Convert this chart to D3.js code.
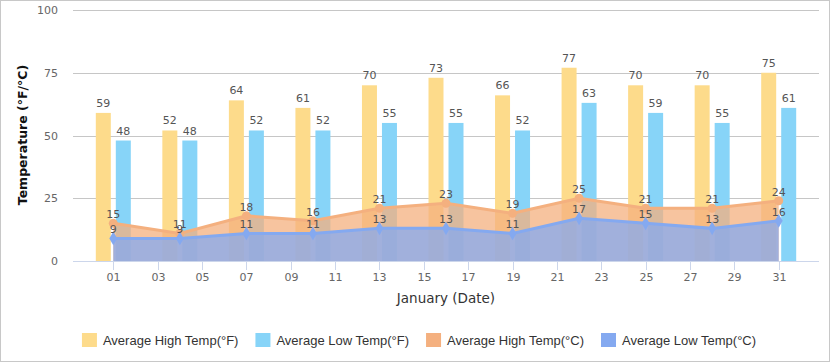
<!DOCTYPE html>
<html><head><meta charset="utf-8">
<script src="https://cdn.jsdelivr.net/npm/d3@7/dist/d3.min.js"></script>
<style>body{margin:0;background:#fff}svg{display:block}</style>
</head><body><svg id="c" width="830" height="362"></svg>
<script>
const days = ["01","04","07","10","13","16","19","22","25","28","31"];
const highF = [59,52,64,61,70,73,66,77,70,70,75];
const lowF  = [48,48,52,52,55,55,52,63,59,55,61];
const highC = [15,11,18,16,21,23,19,25,21,21,24];
const lowC  = [9,9,11,11,13,13,11,17,15,13,16];
const yTicks = [0,25,50,75,100];
const xTickDays = ["01","03","05","07","09","11","13","15","17","19","21","23","25","27","29","31"];
const seriesNames = ["Average High Temp(°F)","Average Low Temp(°F)","Average High Temp(°C)","Average Low Temp(°C)"];
const colors = ["#FDDB8B","#87D4F8","#F4B07F","#84A9F0"];

const W = 830, H = 362;
const svg = d3.select("#c");
const pL = 73, pR = 819, pT = 10, pB = 261;
const dayMs = 86400000;
const toDate = d => new Date(Date.UTC(2024,0,+d));
const pad = 1.817*dayMs;
const x = d3.scaleUtc().domain([+toDate("01")-pad, +toDate("31")+pad]).range([pL,pR]);
const y = d3.scaleLinear().domain([0,100]).range([pB,pT]);

svg.append("rect").attr("x",0.5).attr("y",0.5).attr("width",W-1).attr("height",H-1).attr("fill","#fff").attr("stroke","#c8c8c8");

// gridlines
svg.append("g").selectAll("line").data(yTicks.filter(t=>t>0)).join("line")
  .attr("x1",pL).attr("x2",pR).attr("y1",d=>Math.round(y(d))+0.5).attr("y2",d=>Math.round(y(d))+0.5)
  .attr("stroke","#c6c6c6").attr("stroke-width",1);

// y labels
svg.append("g").selectAll("text").data(yTicks).join("text")
  .attr("x",58).attr("y",d=>y(d)+4).attr("text-anchor","end")
  .attr("font-family","DejaVu Sans").attr("font-size",11).attr("fill","#666").text(d=>d);

// bars
const bw = 15, gap = 5;
const barG = svg.append("g");
[highF, lowF].forEach((arr,si)=>{
  barG.append("g").selectAll("rect").data(arr).join("rect")
    .attr("x",(d,i)=>x(toDate(days[i])) - (bw+gap/2) + si*(bw+gap))
    .attr("width",bw).attr("y",d=>y(d)).attr("height",d=>pB-y(d))
    .attr("fill",colors[si]);
});

// areas
const area = arr => d3.area().x((d,i)=>x(toDate(days[i]))).y0(pB).y1(d=>y(d))(arr);
const line = arr => d3.line().x((d,i)=>x(toDate(days[i]))).y(d=>y(d))(arr);
svg.append("path").attr("d",area(highC)).attr("fill",colors[2]).attr("fill-opacity",0.75);
svg.append("path").attr("d",area(lowC)).attr("fill",colors[3]).attr("fill-opacity",0.75);
svg.append("path").attr("d",line(highC)).attr("fill","none").attr("stroke",colors[2]).attr("stroke-width",3);
svg.append("path").attr("d",line(lowC)).attr("fill","none").attr("stroke",colors[3]).attr("stroke-width",3);
svg.append("g").selectAll("circle").data(highC).join("circle")
  .attr("cx",(d,i)=>x(toDate(days[i]))).attr("cy",d=>y(d)).attr("r",4.5).attr("fill",colors[2]);
svg.append("g").selectAll("path").data(lowC).join("path")
  .attr("transform",(d,i)=>`translate(${x(toDate(days[i]))},${y(d)})`)
  .attr("d",d3.symbol(d3.symbolDiamond,55)).attr("fill",colors[3]);

// x axis
svg.append("line").attr("x1",pL).attr("x2",pR).attr("y1",pB+0.5).attr("y2",pB+0.5).attr("stroke","#ccd6eb");
const xt = svg.append("g").selectAll("g").data(xTickDays).join("g")
  .attr("transform",d=>`translate(${Math.round(x(toDate(d)))+0.5},0)`);
xt.append("line").attr("y1",pB).attr("y2",pB+9).attr("stroke","#ccd6eb");
xt.append("text").attr("y",281).attr("text-anchor","middle")
  .attr("font-family","DejaVu Sans").attr("font-size",11).attr("fill","#666").text(d=>d);

// labels
const lab = (arr, off, shift) => svg.append("g").selectAll("text").data(arr).join("text")
  .attr("x",(d,i)=>x(toDate(days[i]))+shift).attr("y",d=>y(d)-off).attr("text-anchor","middle")
  .attr("font-family","DejaVu Sans").attr("font-size",11).attr("fill","#555").text(d=>d);
lab(highF,6,-(bw+gap)/2);
lab(lowF,6,(bw+gap)/2);
lab(highC,5,0);
lab(lowC,5,0);

// titles
svg.append("text").attr("x",(pL+pR)/2).attr("y",303).attr("text-anchor","middle")
  .attr("font-family","DejaVu Sans").attr("font-size",13.5).attr("fill","#333").text("January (Date)");
svg.append("text").attr("transform","translate(27,135) rotate(-90)").attr("text-anchor","middle")
  .attr("font-family","DejaVu Sans").attr("font-weight","bold").attr("font-size",12.5).attr("fill","#111").text("Temperature (°F/°C)");

// legend
const lg = svg.append("g");
let cx = 0;
seriesNames.forEach((n,i)=>{
  const g = lg.append("g");
  g.append("rect").attr("x",0).attr("y",-7).attr("width",15).attr("height",14).attr("fill",colors[i]);
  const t = g.append("text").attr("x",21).attr("y",5).attr("font-family","Liberation Sans").attr("font-size",13).attr("fill","#333").text(n);
  const w = 21 + t.node().getComputedTextLength();
  g.attr("transform",`translate(${cx},0)`);
  cx += w + 17;
});
const total = cx - 17;
lg.attr("transform",`translate(${W/2 + 4 - total/2},340)`);
</script></body></html>
